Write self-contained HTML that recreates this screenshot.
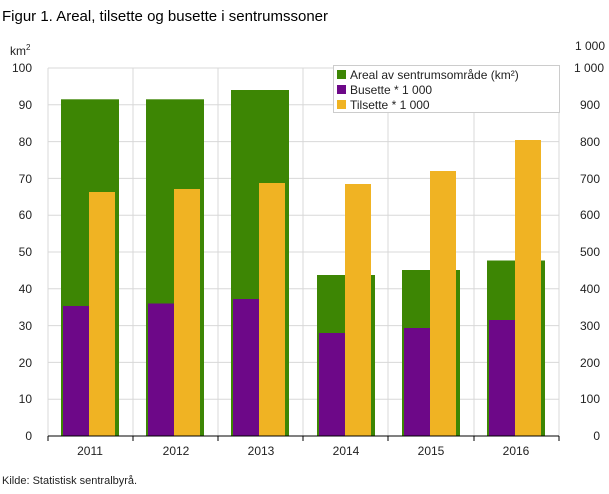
<!DOCTYPE html>
<html><head><meta charset="utf-8"><style>
body{margin:0;background:#fff;}
svg text{font-family:"Liberation Sans","DejaVu Sans",sans-serif;}
</style></head><body>
<svg width="609" height="489" xmlns="http://www.w3.org/2000/svg">
<text x="2" y="21" font-size="15" fill="#000">Figur 1. Areal, tilsette og busette i sentrumssoner</text>
<text x="10" y="55" font-size="12" fill="#222">km<tspan font-size="8" dy="-5">2</tspan></text>
<text x="605" y="50" font-size="12" fill="#222" text-anchor="end">1 000</text>
<g stroke="#d8d8d8" stroke-width="1">
<line x1="48" y1="68" x2="559" y2="68"/><line x1="48" y1="104.8" x2="559" y2="104.8"/><line x1="48" y1="141.6" x2="559" y2="141.6"/><line x1="48" y1="178.4" x2="559" y2="178.4"/><line x1="48" y1="215.2" x2="559" y2="215.2"/><line x1="48" y1="252" x2="559" y2="252"/><line x1="48" y1="288.8" x2="559" y2="288.8"/><line x1="48" y1="325.6" x2="559" y2="325.6"/><line x1="48" y1="362.4" x2="559" y2="362.4"/><line x1="48" y1="399.2" x2="559" y2="399.2"/>
<line x1="48" y1="68" x2="48" y2="436"/><line x1="133" y1="68" x2="133" y2="436"/><line x1="218" y1="68" x2="218" y2="436"/><line x1="303" y1="68" x2="303" y2="436"/><line x1="388" y1="68" x2="388" y2="436"/><line x1="474" y1="68" x2="474" y2="436"/><line x1="559" y1="68" x2="559" y2="436"/>
</g>
<g font-size="12" fill="#222" text-anchor="end">
<text x="32" y="72">100</text><text x="32" y="109">90</text><text x="32" y="146">80</text><text x="32" y="183">70</text><text x="32" y="219">60</text><text x="32" y="256">50</text><text x="32" y="293">40</text><text x="32" y="330">30</text><text x="32" y="367">20</text><text x="32" y="403">10</text><text x="32" y="440">0</text>
</g>
<g font-size="12" fill="#222" text-anchor="end">
<text x="604" y="72">1 000</text><text x="600" y="109">900</text><text x="600" y="146">800</text><text x="600" y="183">700</text><text x="600" y="219">600</text><text x="600" y="256">500</text><text x="600" y="293">400</text><text x="600" y="330">300</text><text x="600" y="367">200</text><text x="600" y="403">100</text><text x="600" y="440">0</text>
</g>
<g fill="#3d8604">
<rect x="61" y="99.3" width="58" height="336.7"/><rect x="146" y="99.3" width="58" height="336.7"/><rect x="231" y="90" width="58" height="346"/><rect x="317" y="275" width="58" height="161"/><rect x="402" y="270" width="58" height="166"/><rect x="487" y="260.5" width="58" height="175.5"/>
</g>
<g fill="#6d0888">
<rect x="63" y="306" width="26" height="130"/><rect x="148" y="303.5" width="26" height="132.5"/><rect x="233" y="299" width="26" height="137"/><rect x="319" y="333" width="26" height="103"/><rect x="404" y="328" width="26" height="108"/><rect x="489" y="320" width="26" height="116"/>
</g>
<g fill="#f0b323">
<rect x="89" y="192" width="26" height="244"/><rect x="174" y="189" width="26" height="247"/><rect x="259" y="183" width="26" height="253"/><rect x="345" y="184" width="26" height="252"/><rect x="430" y="171" width="26" height="265"/><rect x="515" y="140" width="26" height="296"/>
</g>
<line x1="48" y1="436" x2="559" y2="436" stroke="#000" stroke-width="1"/>
<g stroke="#000"><line x1="48" y1="436" x2="48" y2="441"/><line x1="133" y1="436" x2="133" y2="441"/><line x1="218" y1="436" x2="218" y2="441"/><line x1="303" y1="436" x2="303" y2="441"/><line x1="388" y1="436" x2="388" y2="441"/><line x1="474" y1="436" x2="474" y2="441"/><line x1="559" y1="436" x2="559" y2="441"/></g>
<g font-size="12" fill="#222" text-anchor="middle">
<text x="90" y="455">2011</text><text x="176" y="455">2012</text><text x="261" y="455">2013</text><text x="346" y="455">2014</text><text x="431" y="455">2015</text><text x="516" y="455">2016</text>
</g>
<rect x="333.5" y="65.5" width="226" height="47" fill="#fff" stroke="#ccc"/>
<rect x="337" y="70" width="9" height="9" fill="#3d8604"/><text x="350" y="79" font-size="12" fill="#222">Areal av sentrumsområde (km²)</text>
<rect x="337" y="85" width="9" height="9" fill="#6d0888"/><text x="350" y="94" font-size="12" fill="#222">Busette * 1 000</text>
<rect x="337" y="100" width="9" height="9" fill="#f0b323"/><text x="350" y="109" font-size="12" fill="#222">Tilsette * 1 000</text>
<text x="2" y="484" font-size="11" fill="#222">Kilde: Statistisk sentralbyrå.</text>
</svg>
</body></html>
